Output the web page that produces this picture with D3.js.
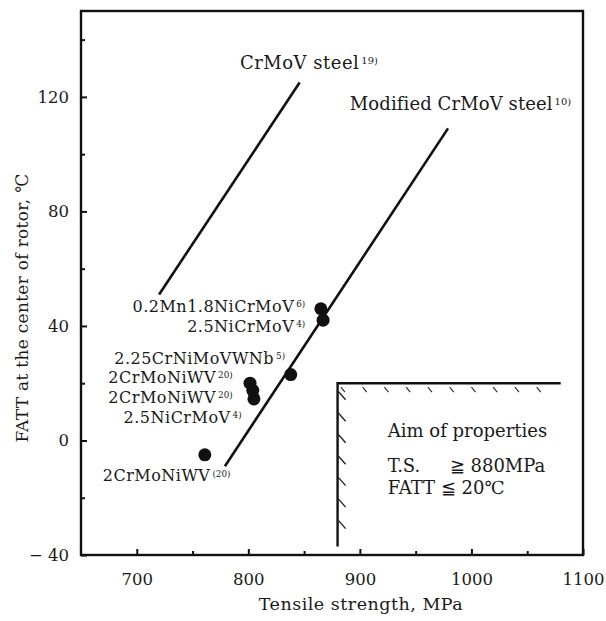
<!DOCTYPE html>
<html lang="en">
<head>
<meta charset="UTF-8">
<title>FATT vs tensile strength</title>
<style>
  body { margin: 0; background: #fff; }
  svg text { font-family: "DejaVu Serif", serif; fill: #1a1a1a; }
</style>
</head>
<body>
<div id="chart"></div>
<script src="https://cdn.jsdelivr.net/npm/d3@7"></script>
<script>
// --- data ---
const xTicks = [700, 800, 900, 1000, 1100]
const xMinor = [750, 850, 950, 1050]
const yTicks = [-40, 0, 40, 80, 120]
const yMinor = [-20, 20, 60, 100, 140]

// trend lines [TS, FATT] end points
const crmovLine = [[720, 51], [846, 125]]
const modLine = [[779, -9], [979, 109]]

// samples: name, ref, TS (MPa), FATT (C)
const sampleNames = ['0.2Mn1.8NiCrMoV', '2.5NiCrMoV', '2.25CrNiMoVWNb', '2CrMoNiWV', '2CrMoNiWV', '2.5NiCrMoV', '2CrMoNiWV']
const sampleRefs = ['6)', '4)', '5)', '20)', '20)', '4)', '(20)']
const sampleTS = [865, 867, 838, 801.5, 804, 805, 761]
const sampleFATT = [46, 42, 23, 20, 17.5, 14.5, -5]
// where each label ends (right edge, baseline) in data units
const labelTS = [851, 851, 833, 786, 786, 794, 784]
const labelFATT = [44.8, 37.9, 26.7, 20.1, 13.0, 6.0, -14.3]

// aim of properties box
const aimTS = 880, aimFATT = 20, aimTSEnd = 1080, aimFATTEnd = -37

const width = 606, height = 621
const margin = {top: 11, right: 23, bottom: 66, left: 81}

const svg = d3.select('#chart').append('svg')
    .attr('width', width)
    .attr('height', height)

const x = d3.scaleLinear().domain([650, 1100]).range([margin.left, width - margin.right])
const y = d3.scaleLinear().domain([-40, 150]).range([height - margin.bottom, margin.top])

// frame
svg.append('rect')
    .attr('x', x(650)).attr('y', y(150))
    .attr('width', x(1100) - x(650)).attr('height', y(-40) - y(150))
    .attr('fill', 'none').attr('stroke', '#111').attr('stroke-width', 2.4)

// axes, ticks drawn inward
svg.append('g').attr('transform', `translate(0,${y(-40)})`)
    .call(d3.axisBottom(x).tickValues(xTicks).tickSize(-6).tickPadding(18).tickFormat(d3.format('d')))
svg.append('g').attr('transform', `translate(0,${y(-40)})`)
    .call(d3.axisBottom(x).tickValues(xMinor).tickSize(-4).tickFormat(''))

svg.append('g').attr('transform', `translate(${x(650)},0)`)
    .call(d3.axisLeft(y).tickValues(yTicks).tickSize(-6).tickPadding(12)
        .tickFormat(d => d < 0 ? '\u2212 ' + Math.abs(d) : d))
svg.append('g').attr('transform', `translate(${x(650)},0)`)
    .call(d3.axisLeft(y).tickValues(yMinor).tickSize(-4).tickFormat(''))

svg.selectAll('.domain').remove()
svg.selectAll('.tick line').attr('stroke', '#111').attr('stroke-width', 2)
svg.selectAll('.tick text').style('font-size', '16.5px').attr('fill', '#1a1a1a')
    .style('font-family', '"DejaVu Serif", serif')

// axis titles
svg.append('text')
    .attr('x', (x(650) + x(1100)) / 2 + 29).attr('y', 610)
    .attr('text-anchor', 'middle')
    .style('font-size', '17.5px').style('letter-spacing', '0.5px')
    .text('Tensile strength, MPa')

svg.append('text')
    .attr('transform', `translate(28,${(y(-40) + y(150)) / 2 + 25}) rotate(-90)`)
    .attr('text-anchor', 'middle')
    .style('font-size', '17px').style('letter-spacing', '0.3px')
    .text('FATT at the center of rotor, \u2103')

// trend lines
const line = d3.line().x(d => x(d[0])).y(d => y(d[1]))
svg.append('path').datum(crmovLine).attr('d', line)
    .attr('stroke', '#111').attr('stroke-width', 2.6).attr('fill', 'none')
svg.append('path').datum(modLine).attr('d', line)
    .attr('stroke', '#111').attr('stroke-width', 2.6).attr('fill', 'none')

function supText(sel, main, sup, size) {
    sel.style('font-size', size + 'px')
    sel.append('tspan').text(main)
    sel.append('tspan').attr('dx', 2).attr('dy', -size * 0.3).style('font-size', (size * 0.55) + 'px')
        .style('letter-spacing', '0px').text(sup)
}

supText(svg.append('text').attr('x', x(792.5)).attr('y', y(129.7)).style('letter-spacing', '0.5px'),
    'CrMoV steel', '19)', 18)
supText(svg.append('text').attr('x', x(891)).attr('y', y(115.3)).style('letter-spacing', '0.1px'),
    'Modified CrMoV steel', '10)', 18)

// samples
svg.selectAll('.pt')
    .data(sampleTS)
    .join('circle')
    .attr('class', 'pt')
    .attr('cx', d => x(d))
    .attr('cy', (d, i) => y(sampleFATT[i]))
    .attr('r', 6.5)
    .attr('fill', '#111')

sampleNames.forEach((n, i) => {
    const t = svg.append('text')
        .attr('x', x(labelTS[i])).attr('y', y(labelFATT[i]))
        .attr('text-anchor', 'end')
        .style('letter-spacing', '0.5px')
    supText(t, n, sampleRefs[i], 16)
})

// aim of properties region with hatching
svg.append('path')
    .attr('d', `M${x(aimTS)},${y(aimFATTEnd)}V${y(aimFATT)}H${x(aimTSEnd)}`)
    .attr('stroke', '#111').attr('stroke-width', 2.4).attr('fill', 'none')

const hHatch = d3.range(aimTS + 3, aimTSEnd - 10, 19.5)
svg.selectAll('.hh').data(hHatch).join('line')
    .attr('x1', d => x(d)).attr('y1', y(aimFATT) + 4)
    .attr('x2', d => x(d) + 4).attr('y2', y(aimFATT) + 9)
    .attr('stroke', '#333').attr('stroke-width', 1.2)

const vHatch = d3.range(aimFATT - 3, aimFATTEnd + 2, -7.5)
svg.selectAll('.vh').data(vHatch).join('line')
    .attr('x1', x(aimTS) + 1).attr('y1', d => y(d))
    .attr('x2', x(aimTS) + 8).attr('y2', d => y(d) + 8)
    .attr('stroke', '#222').attr('stroke-width', 1.3)

const aimX = x(925)
svg.append('text').attr('x', aimX).attr('y', 437).style('font-size', '18px').text('Aim of properties')
svg.append('text').attr('x', aimX).attr('y', 472).style('font-size', '18px').text('T.S.')
svg.append('text').attr('x', aimX + 62).attr('y', 472).style('font-size', '18px').text('\u2267 880MPa')
svg.append('text').attr('x', aimX).attr('y', 494).style('font-size', '18px').text('FATT \u2266 20\u2103')
</script>
</body>
</html>
